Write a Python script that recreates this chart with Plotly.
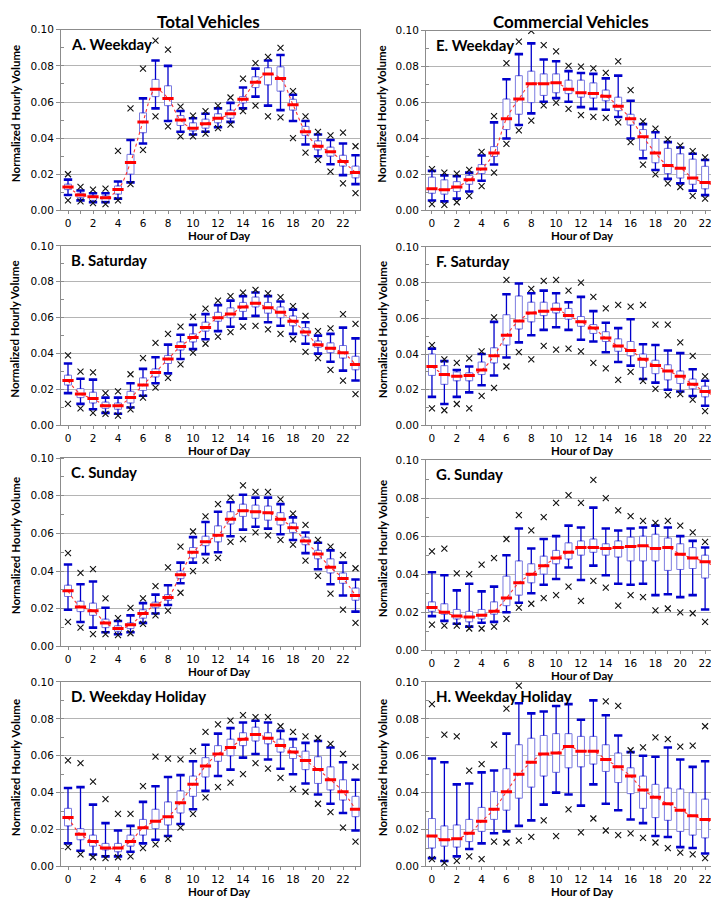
import plotly.graph_objects as go

FIG_W, FIG_H = 719, 900

# ---------------- data ----------------
HOURS_TOTAL = list(range(24))
HOURS_COMM = list(range(23))
LINE_HOURS_COMM = list(range(24))
X_TICK_VALUES = list(range(24))
X_TICK_LABELS = [str(h) if h % 2 == 0 else "" for h in range(24)]
Y_TICK_VALUES = [0.0, 0.02, 0.04, 0.06, 0.08, 0.10]
COLUMN_TITLES = ["Total Vehicles", "Commercial Vehicles"]
PANEL_TITLES = ["A. Weekday", "B. Saturday", "C. Sunday", "D. Weekday Holiday",
                "E. Weekday", "F. Saturday", "G. Sunday", "H. Weekday Holiday"]
X_TITLE = "Hour of Day"
Y_TITLE = "Normalized Hourly Volume"

# A. Total, Weekday
A_HIGH = [0.020, 0.013, 0.0115, 0.012, 0.033, 0.0565, 0.0785, 0.094, 0.089, 0.0575, 0.0525, 0.055,
          0.058, 0.0625, 0.073, 0.0815, 0.085, 0.090, 0.066, 0.052, 0.0435, 0.0415, 0.043, 0.0355]
A_UPPER = [0.017, 0.011, 0.0095, 0.0095, 0.016, 0.039, 0.062, 0.083, 0.080, 0.055, 0.051, 0.0535,
           0.0565, 0.0595, 0.068, 0.0785, 0.083, 0.086, 0.064, 0.0495, 0.042, 0.039, 0.037, 0.0305]
A_Q3 = [0.0145, 0.0095, 0.008, 0.008, 0.0135, 0.031, 0.054, 0.0725, 0.069, 0.0525, 0.0485, 0.0505,
        0.0535, 0.0555, 0.063, 0.074, 0.079, 0.0795, 0.0615, 0.0465, 0.0385, 0.035, 0.0305, 0.0245]
A_MEDIAN = [0.013, 0.0085, 0.0075, 0.007, 0.0115, 0.0265, 0.049, 0.067, 0.062, 0.050, 0.0455, 0.048,
            0.051, 0.0535, 0.0615, 0.071, 0.0755, 0.073, 0.0585, 0.0435, 0.0355, 0.0325, 0.027, 0.021]
A_Q1 = [0.0115, 0.007, 0.0055, 0.005, 0.009, 0.020, 0.043, 0.063, 0.058, 0.047, 0.044, 0.0455,
        0.0485, 0.051, 0.0595, 0.068, 0.0695, 0.066, 0.0555, 0.0415, 0.0335, 0.030, 0.0245, 0.018]
A_LOWER = [0.0085, 0.0055, 0.0045, 0.0045, 0.0065, 0.0155, 0.037, 0.0565, 0.0495, 0.0435, 0.042, 0.0435,
           0.046, 0.049, 0.0565, 0.063, 0.058, 0.0555, 0.0495, 0.0365, 0.030, 0.0255, 0.0195, 0.0145]
A_LOW = [0.0055, 0.005, 0.004, 0.0035, 0.0055, 0.0145, 0.0335, 0.052, 0.0465, 0.041, 0.041, 0.0425,
         0.0455, 0.0475, 0.055, 0.058, 0.052, 0.0515, 0.040, 0.032, 0.028, 0.0215, 0.015, 0.0095]

# B. Total, Saturday
B_HIGH = [0.039, 0.030, 0.0295, 0.018, 0.019, 0.0285, 0.0375, 0.046, 0.051, 0.055, 0.0605, 0.065,
          0.0695, 0.072, 0.074, 0.0755, 0.0735, 0.0715, 0.0665, 0.061, 0.0525, 0.054, 0.062, 0.0565]
B_UPPER = [0.0345, 0.026, 0.0255, 0.0155, 0.0155, 0.0235, 0.0315, 0.038, 0.045, 0.0505, 0.056, 0.062,
           0.067, 0.0695, 0.072, 0.074, 0.072, 0.069, 0.0645, 0.0575, 0.050, 0.051, 0.0545, 0.0485]
B_Q3 = [0.028, 0.0205, 0.0185, 0.013, 0.0125, 0.019, 0.0265, 0.0315, 0.039, 0.0465, 0.051, 0.0575,
        0.063, 0.0655, 0.0685, 0.0715, 0.0685, 0.066, 0.061, 0.0545, 0.047, 0.046, 0.0445, 0.0385]
B_MEDIAN = [0.025, 0.0175, 0.015, 0.011, 0.011, 0.0155, 0.0225, 0.0295, 0.037, 0.044, 0.049, 0.0545,
            0.060, 0.062, 0.066, 0.068, 0.0655, 0.063, 0.058, 0.052, 0.045, 0.043, 0.0405, 0.034]
B_Q1 = [0.0225, 0.0155, 0.0125, 0.0095, 0.009, 0.0125, 0.0195, 0.027, 0.0345, 0.042, 0.0465, 0.0525,
        0.058, 0.060, 0.0635, 0.066, 0.0625, 0.060, 0.0555, 0.050, 0.0435, 0.0405, 0.0375, 0.031]
B_LOWER = [0.018, 0.012, 0.009, 0.007, 0.0065, 0.010, 0.0165, 0.0235, 0.029, 0.037, 0.0425, 0.048,
           0.0525, 0.055, 0.0595, 0.061, 0.0575, 0.0555, 0.051, 0.0455, 0.040, 0.0355, 0.0305, 0.025]
B_LOW = [0.012, 0.0095, 0.007, 0.0065, 0.0055, 0.009, 0.0155, 0.021, 0.0265, 0.034, 0.0405, 0.0455,
         0.0495, 0.052, 0.055, 0.0555, 0.0535, 0.051, 0.048, 0.041, 0.0375, 0.031, 0.025, 0.0175]

# C. Total, Sunday
C_HIGH = [0.0495, 0.039, 0.041, 0.0255, 0.015, 0.0205, 0.0255, 0.032, 0.042, 0.053, 0.061, 0.069,
          0.0755, 0.079, 0.0855, 0.082, 0.082, 0.078, 0.0705, 0.0645, 0.0565, 0.053, 0.0485, 0.0415]
C_UPPER = [0.0435, 0.033, 0.0345, 0.0205, 0.0135, 0.0165, 0.023, 0.0275, 0.0325, 0.0445, 0.058, 0.066,
           0.0715, 0.0765, 0.0805, 0.079, 0.079, 0.0755, 0.0685, 0.0605, 0.055, 0.051, 0.0445, 0.0355]
C_Q3 = [0.0325, 0.024, 0.023, 0.0145, 0.011, 0.0125, 0.0195, 0.0235, 0.0275, 0.040, 0.0525, 0.0585,
        0.064, 0.0715, 0.0755, 0.075, 0.0745, 0.071, 0.0655, 0.058, 0.051, 0.0465, 0.039, 0.031]
C_MEDIAN = [0.0295, 0.021, 0.019, 0.0125, 0.0095, 0.0115, 0.0175, 0.022, 0.026, 0.038, 0.050, 0.0555,
            0.059, 0.0675, 0.072, 0.0715, 0.071, 0.0675, 0.063, 0.056, 0.049, 0.042, 0.036, 0.027]
C_Q1 = [0.0265, 0.0185, 0.0165, 0.010, 0.008, 0.0095, 0.015, 0.0205, 0.0245, 0.036, 0.047, 0.0535,
        0.0555, 0.065, 0.069, 0.068, 0.067, 0.0645, 0.0605, 0.054, 0.0465, 0.039, 0.0335, 0.0245]
C_LOWER = [0.0195, 0.013, 0.010, 0.0075, 0.0065, 0.0075, 0.0125, 0.0175, 0.022, 0.0335, 0.0445, 0.049,
           0.050, 0.0585, 0.062, 0.0635, 0.0625, 0.0595, 0.0565, 0.0495, 0.041, 0.033, 0.027, 0.0185]
C_LOW = [0.013, 0.010, 0.0065, 0.0065, 0.006, 0.007, 0.012, 0.0165, 0.019, 0.0285, 0.040, 0.0455,
         0.047, 0.0555, 0.057, 0.0605, 0.059, 0.0565, 0.054, 0.0455, 0.0375, 0.028, 0.0195, 0.0125]

# D. Total, Weekday Holiday
D_HIGH = [0.0575, 0.056, 0.046, 0.0365, 0.0285, 0.0285, 0.0435, 0.0595, 0.0585, 0.058, 0.0625, 0.073,
          0.077, 0.079, 0.082, 0.081, 0.081, 0.076, 0.073, 0.0705, 0.0695, 0.0665, 0.061, 0.054]
D_UPPER = [0.0425, 0.043, 0.0335, 0.0235, 0.0195, 0.022, 0.035, 0.0435, 0.0485, 0.0495, 0.057, 0.066,
           0.072, 0.075, 0.078, 0.079, 0.078, 0.0735, 0.069, 0.067, 0.068, 0.0645, 0.0565, 0.047]
D_Q3 = [0.0315, 0.0205, 0.017, 0.0125, 0.0125, 0.017, 0.0255, 0.031, 0.035, 0.041, 0.049, 0.059,
        0.0655, 0.069, 0.0725, 0.0755, 0.0725, 0.069, 0.0645, 0.0625, 0.0595, 0.054, 0.047, 0.038]
D_MEDIAN = [0.0265, 0.0175, 0.0135, 0.010, 0.010, 0.0135, 0.021, 0.0245, 0.027, 0.0345, 0.0445, 0.0545,
            0.061, 0.0645, 0.069, 0.0715, 0.0695, 0.0655, 0.062, 0.0575, 0.0525, 0.047, 0.0405, 0.031]
D_Q1 = [0.022, 0.0145, 0.011, 0.009, 0.008, 0.011, 0.017, 0.0205, 0.0225, 0.029, 0.038, 0.0485,
        0.057, 0.060, 0.0655, 0.068, 0.0665, 0.062, 0.0585, 0.0525, 0.045, 0.0415, 0.036, 0.027]
D_LOWER = [0.0125, 0.0085, 0.0065, 0.0055, 0.0055, 0.008, 0.0125, 0.0145, 0.0165, 0.023, 0.031, 0.041,
           0.049, 0.0525, 0.059, 0.061, 0.058, 0.053, 0.050, 0.045, 0.039, 0.034, 0.029, 0.0195]
D_LOW = [0.0105, 0.0065, 0.005, 0.0045, 0.005, 0.0055, 0.010, 0.012, 0.015, 0.021, 0.0285, 0.0375,
         0.043, 0.0455, 0.050, 0.056, 0.053, 0.048, 0.042, 0.0405, 0.034, 0.0295, 0.021, 0.0135]

# E. Commercial, Weekday
E_HIGH = [0.023, 0.021, 0.0205, 0.0225, 0.0325, 0.0525, 0.082, 0.094, 0.100, 0.092, 0.0885, 0.0805,
          0.080, 0.079, 0.0765, 0.083, 0.067, 0.0495, 0.0455, 0.0395, 0.036, 0.033, 0.0295]
E_UPPER = [0.022, 0.0195, 0.019, 0.021, 0.0305, 0.049, 0.073, 0.087, 0.093, 0.084, 0.083, 0.0775,
           0.0765, 0.076, 0.0735, 0.075, 0.061, 0.048, 0.0435, 0.038, 0.035, 0.0315, 0.028]
E_Q3 = [0.0185, 0.017, 0.016, 0.0195, 0.0255, 0.0355, 0.062, 0.075, 0.0775, 0.076, 0.076, 0.0725,
        0.0725, 0.071, 0.067, 0.063, 0.0535, 0.045, 0.040, 0.0345, 0.0315, 0.0285, 0.0245]
E_MEDIAN = [0.012, 0.0115, 0.013, 0.017, 0.023, 0.032, 0.051, 0.062, 0.0705, 0.0705, 0.071, 0.0675,
            0.0655, 0.065, 0.0635, 0.058, 0.051, 0.041, 0.032, 0.025, 0.0235, 0.018, 0.0155]
E_Q1 = [0.0095, 0.009, 0.0105, 0.0145, 0.0205, 0.030, 0.045, 0.0535, 0.060, 0.064, 0.0655, 0.065,
        0.063, 0.0625, 0.061, 0.0555, 0.0475, 0.0335, 0.0265, 0.0205, 0.018, 0.0145, 0.012]
E_LOWER = [0.0055, 0.005, 0.0065, 0.0105, 0.0165, 0.0255, 0.040, 0.0475, 0.054, 0.0605, 0.0625, 0.0605,
           0.0575, 0.0565, 0.056, 0.052, 0.040, 0.029, 0.0225, 0.0175, 0.015, 0.011, 0.0085]
E_LOW = [0.0035, 0.003, 0.0045, 0.008, 0.0135, 0.021, 0.037, 0.0445, 0.050, 0.0585, 0.060, 0.0565,
         0.053, 0.052, 0.0515, 0.049, 0.038, 0.0255, 0.020, 0.015, 0.013, 0.008, 0.0065]
E_LINE_END = 0.0135

# F. Commercial, Saturday
F_HIGH = [0.045, 0.037, 0.035, 0.0375, 0.0415, 0.0605, 0.0815, None, 0.0765, 0.081, 0.0815, 0.0755,
          0.080, 0.072, 0.0655, 0.0675, 0.0665, 0.0675, 0.0565, 0.0565, 0.0465, 0.039, 0.0275]
F_UPPER = [0.043, 0.036, 0.031, 0.033, 0.040, 0.058, 0.0735, 0.0795, 0.074, 0.0755, 0.074, 0.069,
           0.072, 0.064, 0.0575, 0.0545, 0.0595, 0.0455, 0.045, 0.042, 0.0405, 0.0315, 0.025]
F_Q3 = [0.040, 0.0335, 0.030, 0.0295, 0.0355, 0.0435, 0.062, 0.0725, 0.069, 0.069, 0.0685, 0.0655,
        0.061, 0.0565, 0.0525, 0.0485, 0.047, 0.040, 0.0365, 0.034, 0.0305, 0.026, 0.022]
F_MEDIAN = [0.033, 0.0285, 0.0275, 0.028, 0.031, 0.039, 0.0505, 0.0585, 0.063, 0.064, 0.065, 0.0615,
            0.058, 0.0545, 0.049, 0.0445, 0.042, 0.037, 0.0335, 0.0305, 0.0275, 0.023, 0.019]
F_Q1 = [0.028, 0.023, 0.025, 0.025, 0.0285, 0.035, 0.045, 0.054, 0.058, 0.0615, 0.063, 0.0595,
        0.0555, 0.0515, 0.047, 0.0415, 0.039, 0.0325, 0.029, 0.0255, 0.0235, 0.0205, 0.016]
F_LOWER = [0.016, 0.012, 0.016, 0.0185, 0.0225, 0.028, 0.038, 0.0465, 0.0505, 0.0535, 0.055, 0.0535,
           0.048, 0.047, 0.041, 0.0355, 0.0335, 0.026, 0.024, 0.020, 0.019, 0.0165, 0.011]
F_LOW = [0.0095, 0.0085, 0.012, 0.0095, 0.0165, 0.021, 0.033, 0.041, 0.037, 0.0445, 0.0425, 0.043,
         0.0415, 0.035, 0.032, 0.0255, 0.030, 0.025, 0.0205, 0.017, 0.0175, 0.0145, 0.008]
F_LINE_END = 0.016

# G. Commercial, Sunday
G_HIGH = [0.052, 0.0535, 0.0405, 0.040, 0.045, 0.0485, 0.0585, 0.071, 0.063, 0.070, 0.0775, 0.0815,
          0.0775, 0.0895, 0.080, 0.0735, 0.0705, 0.068, 0.067, 0.068, 0.0655, 0.062, 0.057]
G_UPPER = [0.041, 0.0395, 0.0315, 0.035, 0.031, 0.0335, 0.050, 0.064, 0.0535, 0.0585, 0.060, 0.0655,
           0.0645, 0.075, 0.064, 0.063, 0.064, 0.0645, 0.0655, 0.0645, 0.060, 0.0575, 0.054]
G_Q3 = [0.0255, 0.0245, 0.0215, 0.0205, 0.0215, 0.0255, 0.039, 0.047, 0.0455, 0.0495, 0.0525, 0.0565,
        0.0575, 0.0585, 0.056, 0.0575, 0.0595, 0.060, 0.061, 0.059, 0.056, 0.054, 0.050]
G_MEDIAN = [0.0225, 0.020, 0.018, 0.0175, 0.0185, 0.0205, 0.0275, 0.0355, 0.040, 0.0445, 0.0485, 0.0515,
            0.054, 0.054, 0.0535, 0.054, 0.0545, 0.055, 0.0535, 0.054, 0.0505, 0.0485, 0.0465]
G_Q1 = [0.0205, 0.019, 0.0165, 0.015, 0.0165, 0.019, 0.0235, 0.029, 0.0355, 0.040, 0.0455, 0.048,
        0.050, 0.0515, 0.050, 0.049, 0.047, 0.047, 0.047, 0.042, 0.0425, 0.043, 0.038]
G_LOWER = [0.018, 0.0155, 0.014, 0.0125, 0.0145, 0.015, 0.020, 0.025, 0.030, 0.0345, 0.0375, 0.0435,
           0.037, 0.0445, 0.0395, 0.035, 0.0345, 0.035, 0.029, 0.0295, 0.028, 0.029, 0.0215]
G_LOW = [0.0135, 0.013, 0.013, 0.0115, 0.0115, 0.0125, 0.0165, 0.0225, 0.0245, 0.0275, 0.029, 0.0335,
         0.026, 0.0365, 0.033, 0.0235, 0.029, 0.028, 0.021, 0.022, 0.020, 0.0195, 0.015]
G_LINE_END = 0.0435

# H. Commercial, Weekday Holiday
H_HIGH = [0.088, 0.0715, 0.0705, 0.052, 0.0555, 0.066, 0.0855, 0.098, None, None, None, None,
          None, None, 0.0895, 0.087, 0.063, 0.0645, 0.070, 0.069, 0.065, 0.0655, 0.076]
H_UPPER = [0.0585, 0.0565, 0.0445, 0.045, 0.051, 0.052, 0.072, 0.0885, 0.083, 0.084, 0.087, 0.088,
           0.0795, 0.090, 0.082, 0.071, 0.062, 0.060, 0.0595, 0.0645, 0.058, 0.054, 0.057]
H_Q3 = [0.026, 0.022, 0.0225, 0.0255, 0.032, 0.0405, 0.053, 0.066, 0.0695, 0.071, 0.072, 0.072,
        0.0705, 0.0705, 0.066, 0.0615, 0.0535, 0.049, 0.0445, 0.0425, 0.042, 0.040, 0.0365]
H_MEDIAN = [0.0165, 0.0145, 0.015, 0.018, 0.0245, 0.031, 0.0405, 0.050, 0.0565, 0.061, 0.0615, 0.065,
            0.0625, 0.0625, 0.058, 0.054, 0.049, 0.0415, 0.0375, 0.034, 0.0305, 0.0275, 0.0255]
H_Q1 = [0.010, 0.011, 0.0105, 0.0135, 0.019, 0.0255, 0.0305, 0.037, 0.043, 0.049, 0.051, 0.0535,
        0.054, 0.0555, 0.0515, 0.0455, 0.0395, 0.0315, 0.0265, 0.025, 0.019, 0.017, 0.0155]
H_LOWER = [0.0045, 0.003, 0.0055, 0.0095, 0.0125, 0.018, 0.019, 0.022, 0.025, 0.0335, 0.040, 0.039,
           0.033, 0.0445, 0.034, 0.0305, 0.0255, 0.0235, 0.0165, 0.016, 0.0105, 0.010, 0.007]
H_LOW = [0.004, 0.002, 0.003, 0.0055, 0.004, 0.0135, 0.013, 0.014, 0.016, 0.025, 0.0165, 0.031,
         0.0185, 0.026, 0.0195, 0.017, 0.018, 0.0155, 0.013, 0.010, 0.0075, 0.0065, 0.0045]
H_LINE_END = 0.0225

# ---------------- layout geometry (pixels) ----------------
LEFT_X_PX = (53, 352)
RIGHT_X_PX = (418, 712)
LEFT_ROWS_PX = [(16, 199), (235, 417), (450, 641), (677, 864)]
RIGHT_ROWS_PX = [(17, 199), (236, 417), (452, 645), (677, 864)]
LEFT_XRANGE = [-0.56, 23.36]
RIGHT_XRANGE = [-0.48, 23.2]

BOX_LINE = "#7b7be0"
WHISKER = "#0000cc"
MEDIAN_RED = "#ff0000"
LINE_RED = "#ff3030"
GRID = "#b4b4b4"
FRAME = "#8c8c8c"
TICK_FONT = dict(family="DejaVu Sans", size=10.5, color="#000000")
BOLD_FONT = "Lato"


def px_x(px):
    return px / FIG_W


def px_y(py):
    return 1 - py / FIG_H


def bold(t):
    return f"<b>{t}</b>"


panels = [
    dict(h=HOURS_TOTAL, hi=A_HIGH, up=A_UPPER, q3=A_Q3, med=A_MEDIAN, q1=A_Q1, lo=A_LOWER, low=A_LOW,
         lx=HOURS_TOTAL, ly=A_MEDIAN),
    dict(h=HOURS_TOTAL, hi=B_HIGH, up=B_UPPER, q3=B_Q3, med=B_MEDIAN, q1=B_Q1, lo=B_LOWER, low=B_LOW,
         lx=HOURS_TOTAL, ly=B_MEDIAN),
    dict(h=HOURS_TOTAL, hi=C_HIGH, up=C_UPPER, q3=C_Q3, med=C_MEDIAN, q1=C_Q1, lo=C_LOWER, low=C_LOW,
         lx=HOURS_TOTAL, ly=C_MEDIAN),
    dict(h=HOURS_TOTAL, hi=D_HIGH, up=D_UPPER, q3=D_Q3, med=D_MEDIAN, q1=D_Q1, lo=D_LOWER, low=D_LOW,
         lx=HOURS_TOTAL, ly=D_MEDIAN),
    dict(h=HOURS_COMM, hi=E_HIGH, up=E_UPPER, q3=E_Q3, med=E_MEDIAN, q1=E_Q1, lo=E_LOWER, low=E_LOW,
         lx=LINE_HOURS_COMM, ly=E_MEDIAN + [E_LINE_END]),
    dict(h=HOURS_COMM, hi=F_HIGH, up=F_UPPER, q3=F_Q3, med=F_MEDIAN, q1=F_Q1, lo=F_LOWER, low=F_LOW,
         lx=LINE_HOURS_COMM, ly=F_MEDIAN + [F_LINE_END]),
    dict(h=HOURS_COMM, hi=G_HIGH, up=G_UPPER, q3=G_Q3, med=G_MEDIAN, q1=G_Q1, lo=G_LOWER, low=G_LOW,
         lx=LINE_HOURS_COMM, ly=G_MEDIAN + [G_LINE_END]),
    dict(h=HOURS_COMM, hi=H_HIGH, up=H_UPPER, q3=H_Q3, med=H_MEDIAN, q1=H_Q1, lo=H_LOWER, low=H_LOW,
         lx=LINE_HOURS_COMM, ly=H_MEDIAN + [H_LINE_END]),
]

fig = go.Figure()
layout_axes = {}
annotations = []

for i, p in enumerate(panels):
    n = i + 1
    xa = "x" if n == 1 else f"x{n}"
    ya = "y" if n == 1 else f"y{n}"
    left_col = i < 4
    xpx = LEFT_X_PX if left_col else RIGHT_X_PX
    top, bottom = (LEFT_ROWS_PX if left_col else RIGHT_ROWS_PX)[i % 4]
    xr = LEFT_XRANGE if left_col else RIGHT_XRANGE

    hours = p["h"]
    # boxes
    fig.add_trace(go.Box(
        x=hours, q1=p["q1"], median=p["med"], q3=p["q3"],
        lowerfence=p["q1"], upperfence=p["q3"], orientation="v",
        width=0.56, fillcolor="#ffffff", line=dict(color=BOX_LINE, width=1),
        boxpoints=False, showlegend=False, hoverinfo="skip", xaxis=xa, yaxis=ya))
    # whiskers
    wx, wy = [], []
    for h, q3, up, q1, lo in zip(hours, p["q3"], p["up"], p["q1"], p["lo"]):
        wx += [h, h, None, h, h, None]
        wy += [q3, up, None, q1, lo, None]
    fig.add_trace(go.Scatter(x=wx, y=wy, mode="lines", line=dict(color=WHISKER, width=1.3),
                             showlegend=False, hoverinfo="skip", xaxis=xa, yaxis=ya))
    # caps
    fig.add_trace(go.Scatter(x=hours + hours, y=p["up"] + p["lo"], mode="markers",
                             marker=dict(symbol="line-ew", size=6,
                                         line=dict(color=WHISKER, width=2.6)),
                             showlegend=False, hoverinfo="skip", xaxis=xa, yaxis=ya))
    # red dotted median curve
    fig.add_trace(go.Scatter(x=p["lx"], y=p["ly"], mode="lines",
                             line=dict(color=LINE_RED, width=1.1, dash="dot", shape="spline",
                                       smoothing=1.0),
                             showlegend=False, hoverinfo="skip", xaxis=xa, yaxis=ya))
    # medians
    fig.add_trace(go.Scatter(x=hours, y=p["med"], mode="markers",
                             marker=dict(symbol="line-ew", size=8,
                                         line=dict(color=MEDIAN_RED, width=3)),
                             showlegend=False, hoverinfo="skip", xaxis=xa, yaxis=ya))
    # extreme values (x markers)
    ex, ey = [], []
    for h, v in list(zip(hours, p["hi"])) + list(zip(hours, p["low"])):
        if v is not None:
            ex.append(h)
            ey.append(v)
    fig.add_trace(go.Scatter(x=ex, y=ey, mode="markers",
                             marker=dict(symbol="x-thin", size=6,
                                         line=dict(color="#111111", width=1.1)),
                             showlegend=False, hoverinfo="skip", xaxis=xa, yaxis=ya))

    layout_axes["xaxis" if n == 1 else f"xaxis{n}"] = dict(
        domain=[px_x(xpx[0]), px_x(xpx[1])], anchor=ya, range=xr,
        tickmode="array", tickvals=X_TICK_VALUES, ticktext=X_TICK_LABELS,
        ticks="outside", ticklen=3, tickcolor=FRAME, tickfont=TICK_FONT,
        showline=True, linecolor=FRAME, linewidth=1, mirror=True,
        showgrid=False, zeroline=False)
    layout_axes["yaxis" if n == 1 else f"yaxis{n}"] = dict(
        domain=[px_y(bottom), px_y(top)], anchor=xa, range=[0, 0.1],
        tickmode="array", tickvals=Y_TICK_VALUES, tickformat=".2f",
        ticks="outside", ticklen=4, tickcolor=FRAME, tickfont=TICK_FONT,
        showline=True, linecolor=FRAME, linewidth=1, mirror=True,
        showgrid=True, gridcolor=GRID, gridwidth=1, zeroline=False,
        minor=dict(tickmode="linear", tick0=0, dtick=0.01, ticks="inside",
                   ticklen=3, tickcolor=FRAME, showgrid=False))

    # panel title
    annotations.append(dict(text=bold(PANEL_TITLES[i]), xref="paper", yref="paper",
                            x=px_x(xpx[0] + 8), y=px_y(top + 14), xanchor="left", yanchor="middle",
                            showarrow=False, font=dict(family=BOLD_FONT, size=15, color="#000")))
    # x axis title
    annotations.append(dict(text=bold(X_TITLE), xref="paper", yref="paper",
                            x=px_x((xpx[0] + xpx[1]) / 2 + 9), y=px_y(min(bottom + 25, 889)),
                            xanchor="center", yanchor="middle", showarrow=False,
                            font=dict(family=BOLD_FONT, size=11.5, color="#000")))
    # y axis title
    annotations.append(dict(text=bold(Y_TITLE), xref="paper", yref="paper",
                            x=px_x(7 if left_col else 374), y=px_y((top + bottom) / 2 - 6),
                            xanchor="center", yanchor="middle", textangle=-90, showarrow=False,
                            font=dict(family=BOLD_FONT, size=11.5, color="#000")))

# column titles
annotations.append(dict(text=bold(COLUMN_TITLES[0]), xref="paper", yref="paper", x=px_x(201), y=px_y(8),
                        xanchor="center", yanchor="middle", showarrow=False,
                        font=dict(family=BOLD_FONT, size=17, color="#000")))
annotations.append(dict(text=bold(COLUMN_TITLES[1]), xref="paper", yref="paper", x=px_x(563), y=px_y(8),
                        xanchor="center", yanchor="middle", showarrow=False,
                        font=dict(family=BOLD_FONT, size=17, color="#000")))

fig.update_layout(
    width=FIG_W, height=FIG_H, margin=dict(l=0, r=0, t=0, b=0),
    paper_bgcolor="#ffffff", plot_bgcolor="#ffffff", showlegend=False,
    annotations=annotations, **layout_axes)

fig.write_html("out.html")
